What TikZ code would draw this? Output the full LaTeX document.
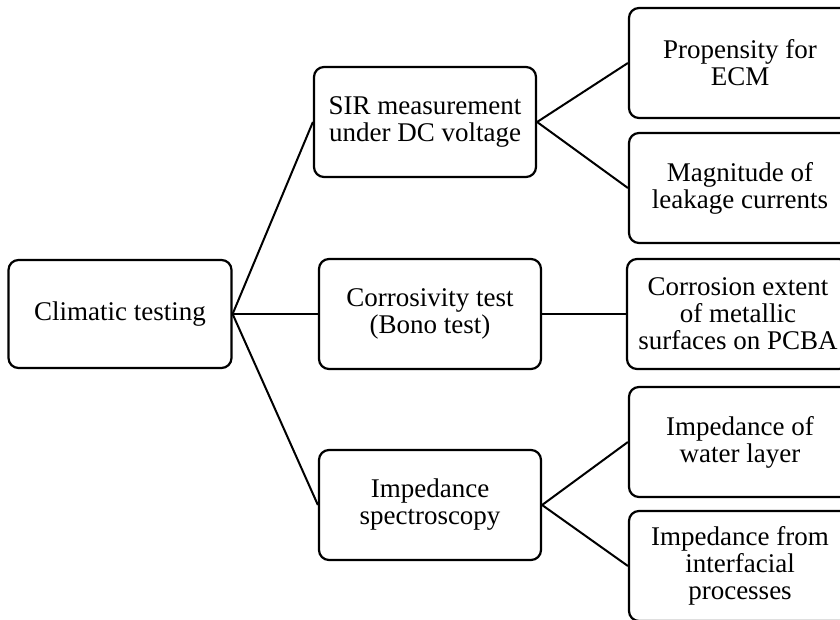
\documentclass[tikz,border=0pt]{standalone}
\usepackage{fontspec}
\setmainfont{Liberation Serif}
\begin{document}
\begin{tikzpicture}[x=1pt, y=-1pt,
        box/.style={draw, rounded corners=10pt, line width=2.2pt, minimum width=222pt,
            minimum height=110pt, align=center, inner sep=0pt,
            font=\fontsize{27}{27}\selectfont}]
        \useasboundingbox (0, 0) rectangle (840, 619);

        \node[style=box, minimum width=223pt, minimum height=108pt] (climatic) at (120, 314) {Climatic testing};
        \node[style=box] (sir) at (425, 122) {SIR measurement\\under DC voltage};
        \node[style=box] (bono) at (430, 314) {Corrosivity test\\(Bono test)};
        \node[style=box] (spectro) at (430, 505) {Impedance\\spectroscopy};

        \node[style=box] (ecm) at (740, 63)  {Propensity for\\ECM};
        \node[style=box] (leak) at (740, 188) {Magnitude of\\leakage currents};
        \node[style=box] (extent) at (738, 314) {Corrosion extent\\of metallic\\surfaces on PCBA};
        \node[style=box] (water) at (740, 442) {Impedance of\\water layer};
        \node[style=box] (interface) at (740, 566) {Impedance from\\interfacial\\processes};

        \draw[line width=2pt]
            (climatic.east) edge (sir.west)
            (climatic.east) edge (bono.west)
            (climatic.east) edge (spectro.west)
            (sir.east) edge (ecm.west)
            (sir.east) edge (leak.west)
            (bono.east) edge (extent.west)
            (spectro.east) edge (water.west)
            (spectro.east) edge (interface.west)
        ;
    \end{tikzpicture}
\end{document}
